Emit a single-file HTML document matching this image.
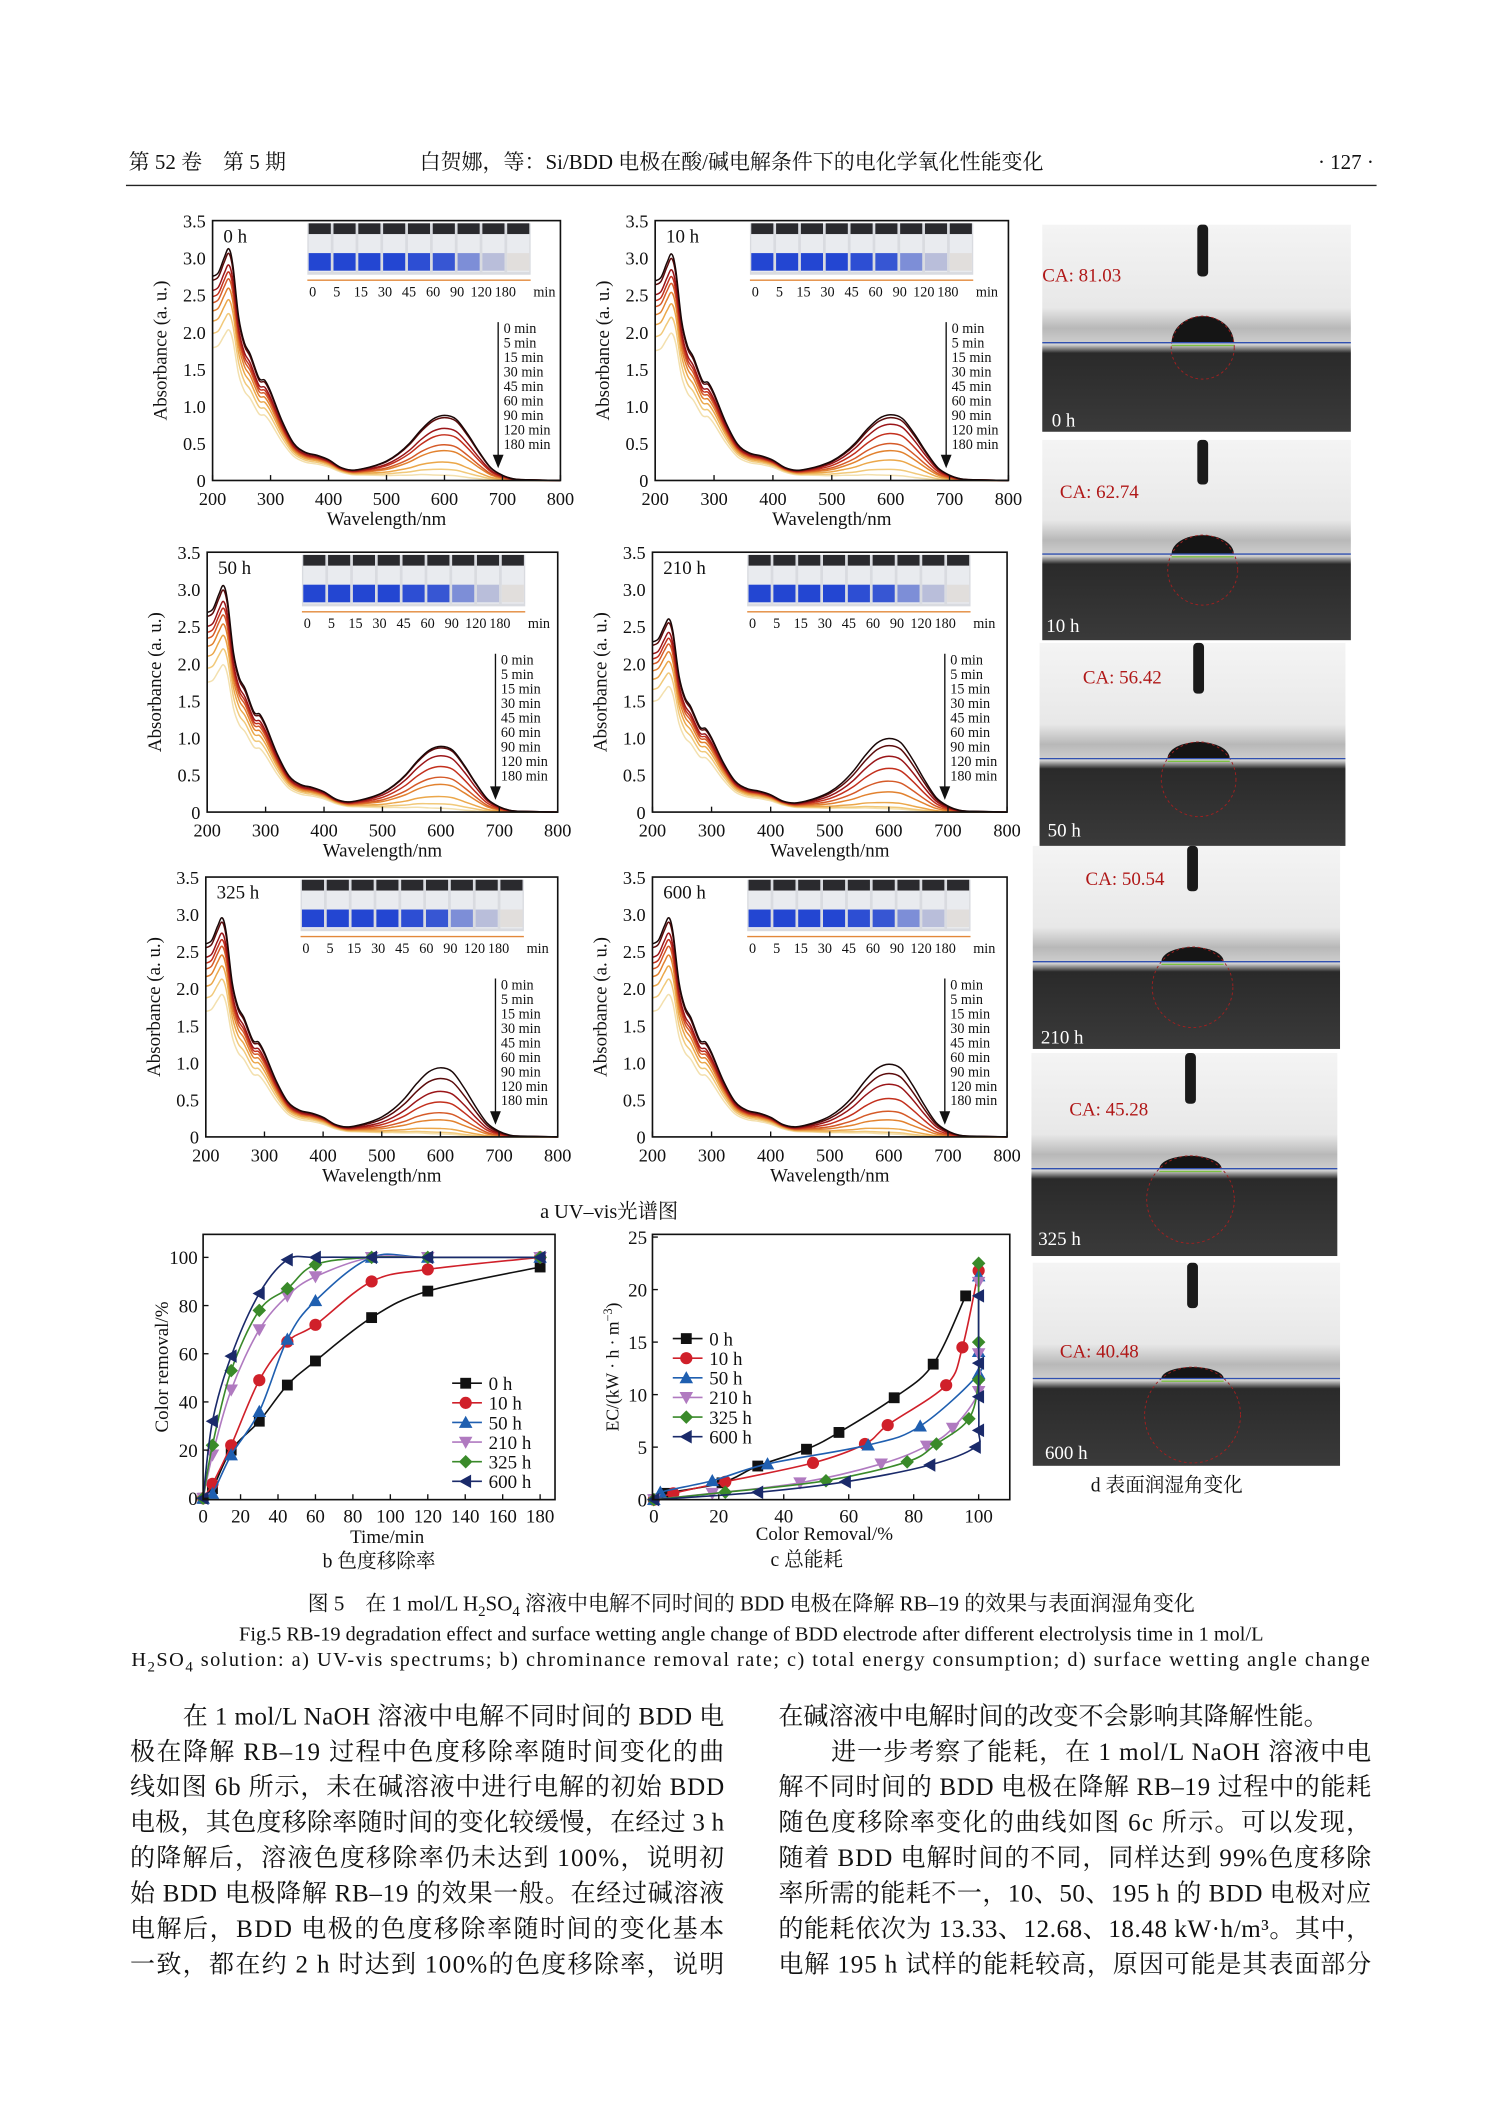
<!DOCTYPE html>
<html><head><meta charset="utf-8"><title>Fig.5 BDD electrode</title>
<style>
html,body{margin:0;padding:0;background:#fff;}
svg{display:block;}
text{font-family:"Liberation Serif","Noto Serif CJK SC","Noto Sans CJK SC",serif;fill:#111;}
</style></head>
<body>
<svg id="page" width="1489" height="2106" viewBox="0 0 1100 1556" xmlns="http://www.w3.org/2000/svg">
<g id="root"></g>
</svg>
<script>
// ---------- UV-vis data ----------
const uvPanelTitles = ["0 h","10 h","50 h","210 h","325 h","600 h"];
const uvTimes = ["0 min","5 min","15 min","30 min","45 min","60 min","90 min","120 min","180 min"];
const uvWavelengths = [200,210,220,228,235,245,255,265,280,290,300,320,340,360,380,400,420,440,460,480,500,520,540,560,580,600,620,640,660,680,700,720,740,800];
const uvBandUV  = [2.75,2.8,3.0,3.12,2.9,2.2,1.85,1.7,1.38,1.35,1.2,0.8,0.5,0.38,0.34,0.28,0.18,0.12,0.11,0.1,0.09,0.09,0.08,0.08,0.06,0.05,0.04,0.02,0.01,0,0,0,0,0];
const uvBandVis = [0,0,0,0,0,0,0,0,0,0,0,0,0,0,0,0,0,0.02,0.05,0.1,0.17,0.27,0.42,0.6,0.76,0.82,0.78,0.6,0.37,0.17,0.07,0.02,0.01,0];
const uvPeakScale = [3.12,3.05,3.05,2.6,2.95,2.95];
const uvFactors = [1,0.98,0.93,0.9,0.87,0.83,0.78,0.72,0.65];
const visPeaks0 = [0.87,0.84,0.69,0.6,0.46,0.38,0.22,0.12,0.04];
const visPeaks1 = [0.88,0.84,0.75,0.62,0.48,0.38,0.25,0.12,0.04];
const visPeaks2 = [0.88,0.86,0.75,0.6,0.45,0.35,0.18,0.08,0.02];
const visPeaks3 = [1.0,0.9,0.75,0.58,0.4,0.25,0.1,0.04,0.02];
const visPeaks4 = [0.93,0.78,0.6,0.45,0.3,0.2,0.08,0.03,0.01];
const visPeaks5 = [0.98,0.85,0.7,0.5,0.32,0.2,0.08,0.03,0.01];
const uvYTicks = [0,0.5,1.0,1.5,2.0,2.5,3.0,3.5];
const uvYTickLabels = ["0","0.5","1.0","1.5","2.0","2.5","3.0","3.5"];
const uvXTicks = [200,300,400,500,600,700,800];
const vialBlue = [1,1,1,1,0.95,0.9,0.55,0.25,0.05];
// ---------- Color removal (b) ----------
const bTimes = [0,5,15,30,45,60,90,120,180];
const bSeriesNames = ["0 h","10 h","50 h","210 h","325 h","600 h"];
const b0h   = [0,4,20,32,47,57,75,86,96];
const b10h  = [0,6,22,49,65,72,90,95,100];
const b50h  = [0,2,18,36,66,82,100,100,100];
const b210h = [0,18,45,70,84,92,100,100,100];
const b325h = [0,22,53,78,87,97,100,100,100];
const b600h = [0,32,59,85,99,100,100,100,100];
const bXTicks = [0,20,40,60,80,100,120,140,160,180];
const bYTicks = [0,20,40,60,80,100];
// ---------- Energy consumption (c) ----------
const cX0h = [0,4,21,32,47,57,74,86,96];     const cY0h = [0,0.6,1.6,3.2,4.8,6.4,9.7,12.9,19.4];
const cX10h = [0,6,22,49,65,72,90,95,100];   const cY10h = [0,0.6,1.7,3.5,5.3,7.1,10.9,14.5,21.8];
const cX50h = [0,2,18,35,66,82,100,100,100]; const cY50h = [0,0.7,1.8,3.4,5.2,7.0,12.0,14.1,21.3];
const cX210h = [0,18,45,70,84,92,100,100,100]; const cY210h = [0,0.6,1.6,3.4,5.1,6.8,10.3,13.9,20.7];
const cX325h = [0,22,53,78,87,97,100,100,100]; const cY325h = [0,0.7,1.8,3.6,5.3,7.7,11.4,15.0,22.5];
const cX600h = [0,32,59,85,99,100,100,100,100]; const cY600h = [0,0.7,1.7,3.3,5.0,6.6,9.8,13.0,19.4];
const cXTicks = [0,20,40,60,80,100];
const cYTicks = [0,5,10,15,20,25];
// ---------- contact angles (d) ----------
const caValues = ["81.03","62.74","56.42","50.54","45.28","40.48"];
const caLabels = ["0 h","10 h","50 h","210 h","325 h","600 h"];
const caAngles = [81.03,62.74,56.42,50.54,45.28,40.48];

const NS="http://www.w3.org/2000/svg";
const root=document.getElementById('root');
function el(tag,attrs,parent,txt){const e=document.createElementNS(NS,tag);for(const k in attrs)e.setAttribute(k,attrs[k]);if(txt!==undefined)e.textContent=txt;(parent||root).appendChild(e);return e;}
function smooth(pts){if(pts.length<2)return"";let d="M"+pts[0][0].toFixed(2)+","+pts[0][1].toFixed(2);for(let i=0;i<pts.length-1;i++){const p0=pts[i-1]||pts[i],p1=pts[i],p2=pts[i+1],p3=pts[i+2]||p2;const t=6;d+=" C"+(p1[0]+(p2[0]-p0[0])/t).toFixed(2)+","+(p1[1]+(p2[1]-p0[1])/t).toFixed(2)+" "+(p2[0]-(p3[0]-p1[0])/t).toFixed(2)+","+(p2[1]-(p3[1]-p1[1])/t).toFixed(2)+" "+p2[0].toFixed(2)+","+p2[1].toFixed(2);}return d;}

// Header
let t;
t=el('text',{x:95,y:125,'font-size':15.5},root,"第 52 卷　第 5 期");


t=el('text',{x:310,y:125,'font-size':15.5},root,"白贺娜，等：Si/BDD 电极在酸/碱电解条件下的电化学氧化性能变化");


t=el('text',{x:1015,y:125,'font-size':15.5,'text-anchor':'end'},root,"· 127 ·");


t=el('line',{x1:93,y1:137,x2:1017,y2:137,stroke:'#222','stroke-width':1});



// UV panels
const uvColors=["#1a0808","#5c0b0b","#9a1518","#c3301d","#d55a28","#e2822f","#eba74a","#f1c97a","#f3e0ae"];
const panels=[[157,414,163,355],[484,745,163,355],[153,412,408,600],[482,744,408,600],[152,412,648,840],[482,744,648,840]];
const visAll=[visPeaks0,visPeaks1,visPeaks2,visPeaks3,visPeaks4,visPeaks5];
panels.forEach((p,pi)=>{
  const [x0,x1,y0,y1]=p;
  const g=el('g',{});
  
  
  const xs=w=>x0+(w-200)/600*(x1-x0), ys=a=>y1-a/3.5*(y1-y0);
  // curves (light first)
  for(let k=uvTimes.length-1;k>=0;k--){
    const pts=uvWavelengths.map((w,i)=>[xs(w),ys(uvBandUV[i]/3.12*uvPeakScale[pi]*uvFactors[k]+uvBandVis[i]/0.82*visAll[pi][k]*0.95)]);
    const c=el('path',{d:smooth(pts),fill:'none',stroke:uvColors[k],'stroke-width':1.1},g);
    
    
  }
  const fr=el('rect',{x:x0,y:y0,width:x1-x0,height:y1-y0,fill:'none',stroke:'#111','stroke-width':1.2},g);
  
  
  uvYTicks.forEach((v,i)=>{
    const tl=el('text',{x:x0-5,y:ys(v)+5,'font-size':13.5,'text-anchor':'end'},g,uvYTickLabels[i]);
    
    
  });
  uvXTicks.forEach(v=>{
    el('line',{x1:xs(v),y1:y1,x2:xs(v),y2:y1-4,stroke:'#111'},g);
    const tl=el('text',{x:xs(v),y:y1+18,'font-size':13.5,'text-anchor':'middle'},g,String(v));
    
    
  });
  const xt=el('text',{x:(x0+x1)/2,y:y1+33,'font-size':14,'text-anchor':'middle'},g,"Wavelength/nm");
  
  
  const yt=el('text',{x:0,y:0,'font-size':14,'text-anchor':'middle',transform:`translate(${x0-34},${(y0+y1)/2}) rotate(-90)`},g,"Absorbance (a. u.)");
  
  
  const pt=el('text',{x:x0+8,y:y0+16,'font-size':14},g,uvPanelTitles[pi]);
  
  
  // inset photo
  const ix=x0+70, iy=y0+2, iw=165, ih=38;
  const inset=el('g',{},g);
  
  
  el('rect',{x:ix,y:iy,width:iw,height:ih,fill:'#d9dbe0'},inset);
  const vw=iw/9;
  vialBlue.forEach((b,i)=>{
    const vx=ix+i*vw;
    el('rect',{x:vx+1,y:iy,width:vw-2,height:8,fill:'#2a2a2e'},inset);
    el('rect',{x:vx+1,y:iy+8,width:vw-2,height:ih-10,fill:'#e9ebef'},inset);
    const r=Math.round(235-b*200),gg=Math.round(230-b*160),bb=Math.round(220-b*10);
    el('rect',{x:vx+1,y:iy+22,width:vw-2,height:ih-25,fill:`rgb(${r},${gg},${bb})`},inset);
  });
  el('line',{x1:ix,y1:iy+ih+4,x2:ix+iw,y2:iy+ih+4,stroke:'#e2883a','stroke-width':1},inset);
  const lab=["0","5","15","30","45","60","90","120","180"];
  lab.forEach((l,i)=>el('text',{x:ix+4+i*vw*0.97,y:iy+ih+16,'font-size':10.5,'text-anchor':'middle'},inset,l));
  el('text',{x:ix+iw+2,y:iy+ih+16,'font-size':10.5},inset,"min");
  // legend
  const lx=x1-42, ly0=y0+83;
  el('line',{x1:lx-4,y1:ly0-8,x2:lx-4,y2:y1-12,stroke:'#111','stroke-width':1},g);
  el('path',{d:`M${lx-8},${y1-19} L${lx},${y1-19} L${lx-4},${y1-9} Z`,fill:'#111'},g);
  uvTimes.forEach((s,k)=>{
    const lt=el('text',{x:lx,y:ly0+k*10.7,'font-size':10.5},g,s);
    
    
  });
});
t=el('text',{x:450,y:900,'font-size':15,'text-anchor':'middle'},root,"a  UV–vis光谱图");



// markers
function marker(g,shape,x,y,c){
  const s=4;
  if(shape==='sq') return el('rect',{x:x-s,y:y-s,width:2*s,height:2*s,fill:c},g);
  if(shape==='ci') return el('circle',{cx:x,cy:y,r:s+0.5,fill:c},g);
  if(shape==='up') return el('path',{d:`M${x},${y-s-1} L${x+s+1},${y+s} L${x-s-1},${y+s} Z`,fill:c},g);
  if(shape==='dn') return el('path',{d:`M${x-s-1},${y-s} L${x+s+1},${y-s} L${x},${y+s+1} Z`,fill:c},g);
  if(shape==='di') return el('path',{d:`M${x},${y-s-1} L${x+s+1},${y} L${x},${y+s+1} L${x-s-1},${y} Z`,fill:c},g);
  return el('path',{d:`M${x-s-1},${y} L${x+s},${y-s-1} L${x+s},${y+s+1} Z`,fill:c},g);
}
const serColors=["#111111","#d0202a","#1f5fb0","#b07ac0","#3a8a2a","#1a2a6a"];
const serShapes=["sq","ci","up","dn","di","le"];

// chart b
{
  const x0=150,x1=410,y0=912,y1=1108;
  const xs=v=>x0+v/180*(399-150)+0, ys=v=>1107-v/100*(1107-929);
  const g=el('g',{});
  
  
  const series=[b0h,b10h,b50h,b210h,b325h,b600h];
  series.forEach((arr,si)=>{
    const pts=bTimes.map((tm,i)=>[xs(tm),ys(arr[i])]);
    const ln=el('path',{d:smooth(pts),fill:'none',stroke:serColors[si],'stroke-width':1.2},g);
    
    
    pts.forEach(p=>{const m=marker(g,serShapes[si],p[0],p[1],serColors[si]);
      
      });
  });
  el('rect',{x:x0,y:y0,width:x1-x0,height:y1-y0,fill:'none',stroke:'#111','stroke-width':1.2},g);
  bXTicks.forEach(v=>{el('line',{x1:xs(v),y1:y1,x2:xs(v),y2:y1-4,stroke:'#111'},g);
    el('text',{x:xs(v),y:y1+17,'font-size':14,'text-anchor':'middle'},g,String(v));});
  bYTicks.forEach(v=>{el('line',{x1:x0,y1:ys(v),x2:x0+4,y2:ys(v),stroke:'#111'},g);
    el('text',{x:x0-4,y:ys(v)+5,'font-size':14,'text-anchor':'end'},g,String(v));});
  el('text',{x:286,y:1140,'font-size':14,'text-anchor':'middle'},g,"Time/min");
  el('text',{x:0,y:0,'font-size':14,'text-anchor':'middle',transform:`translate(124,${(y0+y1)/2}) rotate(-90)`},g,"Color removal/%");
  bSeriesNames.forEach((s,si)=>{const ly=1022+si*14.5;
    el('line',{x1:334,y1:ly,x2:356,y2:ly,stroke:serColors[si],'stroke-width':1.2},g);
    marker(g,serShapes[si],344,ly,serColors[si]);
    const lt=el('text',{x:361,y:ly+5,'font-size':14},g,s);
    
    });
  el('text',{x:280,y:1158,'font-size':14.5,'text-anchor':'middle'},g,"b  色度移除率");
}
// chart c
{
  const x0=482,x1=746,y0=912,y1=1108;
  const xs=v=>483+v/100*(723-483), ys=v=>1108-v/25*(1108-914);
  const g=el('g',{});
  
  
  const X=[cX0h,cX10h,cX50h,cX210h,cX325h,cX600h],Y=[cY0h,cY10h,cY50h,cY210h,cY325h,cY600h];
  X.forEach((arr,si)=>{
    const pts=arr.map((v,i)=>[xs(v),ys(Y[si][i])]);
    const ln=el('path',{d:smooth(pts),fill:'none',stroke:serColors[si],'stroke-width':1.2},g);
    
    
    pts.forEach(p=>{const m=marker(g,serShapes[si],p[0],p[1],serColors[si]);
      
      });
  });
  el('rect',{x:x0,y:y0,width:x1-x0,height:y1-y0,fill:'none',stroke:'#111','stroke-width':1.2},g);
  cXTicks.forEach(v=>{el('line',{x1:xs(v),y1:y1,x2:xs(v),y2:y1-4,stroke:'#111'},g);
    el('text',{x:xs(v),y:y1+17,'font-size':14,'text-anchor':'middle'},g,String(v));});
  cYTicks.forEach(v=>{el('line',{x1:x0,y1:ys(v),x2:x0+4,y2:ys(v),stroke:'#111'},g);
    el('text',{x:x0-4,y:ys(v)+5,'font-size':14,'text-anchor':'end'},g,String(v));});
  el('text',{x:609,y:1138,'font-size':14,'text-anchor':'middle'},g,"Color Removal/%");
  const yt=el('text',{x:0,y:0,'font-size':13,'text-anchor':'middle',transform:`translate(457,1010) rotate(-90)`},g);
  yt.innerHTML='EC/(kW · h · m<tspan dy="-5" font-size="9">−3</tspan><tspan dy="5">)</tspan>';
  bSeriesNames.forEach((s,si)=>{const ly=989+si*14.5;
    el('line',{x1:497,y1:ly,x2:519,y2:ly,stroke:serColors[si],'stroke-width':1.2},g);
    marker(g,serShapes[si],507,ly,serColors[si]);
    const lt=el('text',{x:524,y:ly+5,'font-size':14},g,s);
    
    });
  el('text',{x:596,y:1157,'font-size':14.5,'text-anchor':'middle'},g,"c  总能耗");
}
// contact angle photos
const photos=[[770,166,228,153,770,208,777,315],[770,325,228,148,783,368,773,467],[768,475,226,150,800,505,774,618],[763,625,227,150,802,654,769,771],[762,778,226,150,790,824,767,920],[763,933,227,150,783,1003,772,1078]];
const defs=el('defs',{});
const lg=el('linearGradient',{id:'pg',x1:0,y1:0,x2:0,y2:1},defs);
el('stop',{offset:'0','stop-color':'#f4f4f4'},lg);el('stop',{offset:'0.4','stop-color':'#e8e8e8'},lg);
el('stop',{offset:'0.5','stop-color':'#b8b8b8'},lg);el('stop',{offset:'0.58','stop-color':'#d0d0d0'},lg);
el('stop',{offset:'0.62','stop-color':'#2a2a2a'},lg);el('stop',{offset:'1','stop-color':'#3a3a3a'},lg);
photos.forEach((p,i)=>{
  const [x,y,w,h,cx,cy,lx,ly]=p;
  const g=el('g',{});
  
  
  el('rect',{x,y,width:w,height:h,fill:'url(#pg)'},g);
  const dx=x+w*0.52, base=y+h*0.57;
  el('rect',{x:dx-4,y:y,width:8,height:h*0.25-4*(i%2),rx:3,fill:'#1a1a1a'},g);
  const a=caAngles[i]*Math.PI/180, hw=23, hh=hw*Math.tan(a/2)*1.0;
  el('path',{d:`M${dx-hw},${base} A${hw},${hh} 0 0 1 ${dx+hw},${base} Z`,fill:'#151515'},g);
  el('circle',{cx:dx,cy:base+ (hw*hw-hh*hh)/(2*hh),r:(hw*hw+hh*hh)/(2*hh),fill:'none',stroke:'#a02020','stroke-width':0.7,'stroke-dasharray':'2,2'},g);
  el('line',{x1:x,y1:base,x2:x+w,y2:base,stroke:'#3050b0','stroke-width':1},g);
  el('line',{x1:dx-hw,y1:base+2,x2:dx+hw,y2:base+2,stroke:'#7cc040','stroke-width':1},g);
  const ca=el('text',{x:cx,y:cy,'font-size':14,fill:'#b01818',style:'fill:#b01818'},g,"CA: "+caValues[i]);
  
  
  const hl=el('text',{x:lx,y:ly,'font-size':14,style:'fill:#fff'},g,caLabels[i]);
  
  
});
t=el('text',{x:862,y:1102,'font-size':14.5,'text-anchor':'middle'},root,"d  表面润湿角变化");



// figure caption
t=el('text',{x:555,y:1190,'font-size':15.5,'text-anchor':'middle'},root);
t.innerHTML='图 5　在 1 mol/L H<tspan dy="4" font-size="11">2</tspan><tspan dy="-4">SO</tspan><tspan dy="4" font-size="11">4</tspan><tspan dy="-4"> 溶液中电解不同时间的 BDD 电极在降解 RB–19 的效果与表面润湿角变化</tspan>';


t=el('text',{x:555,y:1212,'font-size':15,'text-anchor':'middle'},root,"Fig.5 RB-19 degradation effect and surface wetting angle change of BDD electrode after different electrolysis time in 1 mol/L");


t=el('text',{x:97,y:1231,'font-size':15,textLength:915,lengthAdjust:'spacing'},root);
t.innerHTML='H<tspan dy="4" font-size="11">2</tspan><tspan dy="-4">SO</tspan><tspan dy="4" font-size="11">4</tspan><tspan dy="-4"> solution: a) UV-vis spectrums; b) chrominance removal rate; c) total energy consumption; d) surface wetting angle change</tspan>';



// body text
const leftLines=["在 1 mol/L NaOH 溶液中电解不同时间的 BDD 电","极在降解 RB–19 过程中色度移除率随时间变化的曲","线如图 6b 所示，未在碱溶液中进行电解的初始 BDD","电极，其色度移除率随时间的变化较缓慢，在经过 3 h","的降解后，溶液色度移除率仍未达到 100%，说明初","始 BDD 电极降解 RB–19 的效果一般。在经过碱溶液","电解后，BDD 电极的色度移除率随时间的变化基本","一致，都在约 2 h 时达到 100%的色度移除率，说明"];
const rightLines=["在碱溶液中电解时间的改变不会影响其降解性能。","进一步考察了能耗，在 1 mol/L NaOH 溶液中电","解不同时间的 BDD 电极在降解 RB–19 过程中的能耗","随色度移除率变化的曲线如图 6c 所示。可以发现，","随着 BDD 电解时间的不同，同样达到 99%色度移除","率所需的能耗不一，10、50、195 h 的 BDD 电极对应","的能耗依次为 13.33、12.68、18.48 kW·h/m³。其中，","电解 195 h 试样的能耗较高，原因可能是其表面部分"];
leftLines.forEach((s,i)=>{
  const x=i===0?135:96;
  const b=el('text',{x:x,y:1274+i*26.2,'font-size':18.5,textLength:535-x,lengthAdjust:'spacing'},root,s);
  
  
});
rightLines.forEach((s,i)=>{
  const x=i===1?614:575;
  const attrs={x:x,y:1274+i*26.2,'font-size':18.5};
  if(i>0){attrs.textLength=1013-x;attrs.lengthAdjust='spacing';}
  const b=el('text',attrs,root,s);
  
  
});
</script>
</body></html>
